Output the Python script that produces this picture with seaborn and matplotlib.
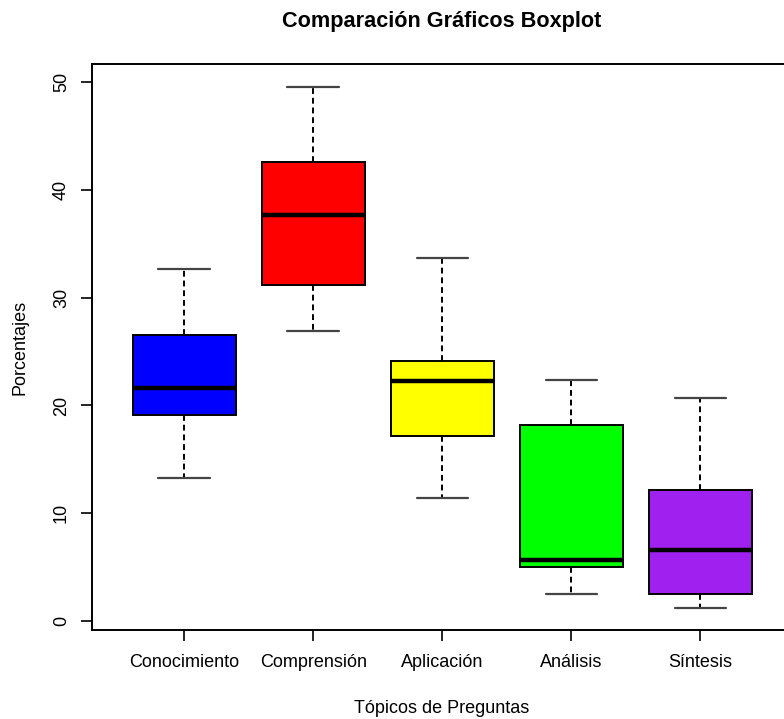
import pandas as pd
import matplotlib
matplotlib.use("Agg")
import matplotlib.pyplot as plt
import seaborn as sns

# Five-number summaries (min, Q1, median, Q3, max)
topicos = ['Conocimiento', 'Comprensión', 'Aplicación', 'Análisis', 'Síntesis']
minimos = [13.3, 26.9, 11.4, 2.5, 1.2]
cuartil1 = [19.1, 31.2, 17.2, 5.0, 2.5]
medianas = [21.6, 37.7, 22.3, 5.7, 6.6]
cuartil3 = [26.5, 42.6, 24.1, 18.2, 12.2]
maximos = [32.7, 49.6, 33.7, 22.4, 20.7]
colores = ['#0000FF', '#FF0000', '#FFFF00', '#00FF00', '#A020F0']

# long table: five values per topic give exactly these quartiles
filas = []
for i, t in enumerate(topicos):
    for v in (minimos[i], cuartil1[i], medianas[i], cuartil3[i], maximos[i]):
        filas.append({'Tópico': t, 'Porcentaje': v})
df = pd.DataFrame(filas)

sns.set_theme(style="white")
plt.rcParams['font.family'] = ['Liberation Sans', 'DejaVu Sans']
plt.rcParams['text.color'] = 'black'
plt.rcParams['axes.labelcolor'] = 'black'
plt.rcParams['xtick.color'] = 'black'
plt.rcParams['ytick.color'] = 'black'

fig = plt.figure(figsize=(7.84, 7.19), dpi=100)
ax = fig.add_axes([0.1177, 0.1238, 0.891, 0.7868])

sns.boxplot(data=df, x='Tópico', y='Porcentaje', hue='Tópico', order=topicos,
            hue_order=topicos, palette=colores, legend=False, width=0.8,
            whis=(0, 100), linecolor='black', linewidth=1.4, saturation=1,
            medianprops={'linewidth': 3.2, 'color': 'black'},
            whiskerprops={'linestyle': (0, (3, 2)), 'linewidth': 1.4},
            capprops={'linewidth': 1.6, 'color': '#444444'},
            ax=ax)

ax.set_xlim(-0.712, 4.7)
ax.set_ylim(-0.84, 51.67)
ax.set_yticks([0, 10, 20, 30, 40, 50])

ax.set_title('Comparación Gráficos Boxplot', fontsize=15.6, fontweight='bold',
             pad=27, color='black')
ax.set_xlabel('Tópicos de Preguntas', fontsize=13, labelpad=21)
ax.set_ylabel('Porcentajes', fontsize=13, labelpad=18)

ax.tick_params(axis='both', which='major', length=8, width=1.2, labelsize=13,
               color='black', labelcolor='black', left=True, bottom=True,
               direction='out')
ax.tick_params(axis='x', pad=9)
ax.tick_params(axis='y', pad=8)
plt.setp(ax.get_yticklabels(), rotation=90, va='center')

for s in ax.spines.values():
    s.set_color('black')
    s.set_linewidth(1.4)

fig.savefig('out.png', dpi=100)
